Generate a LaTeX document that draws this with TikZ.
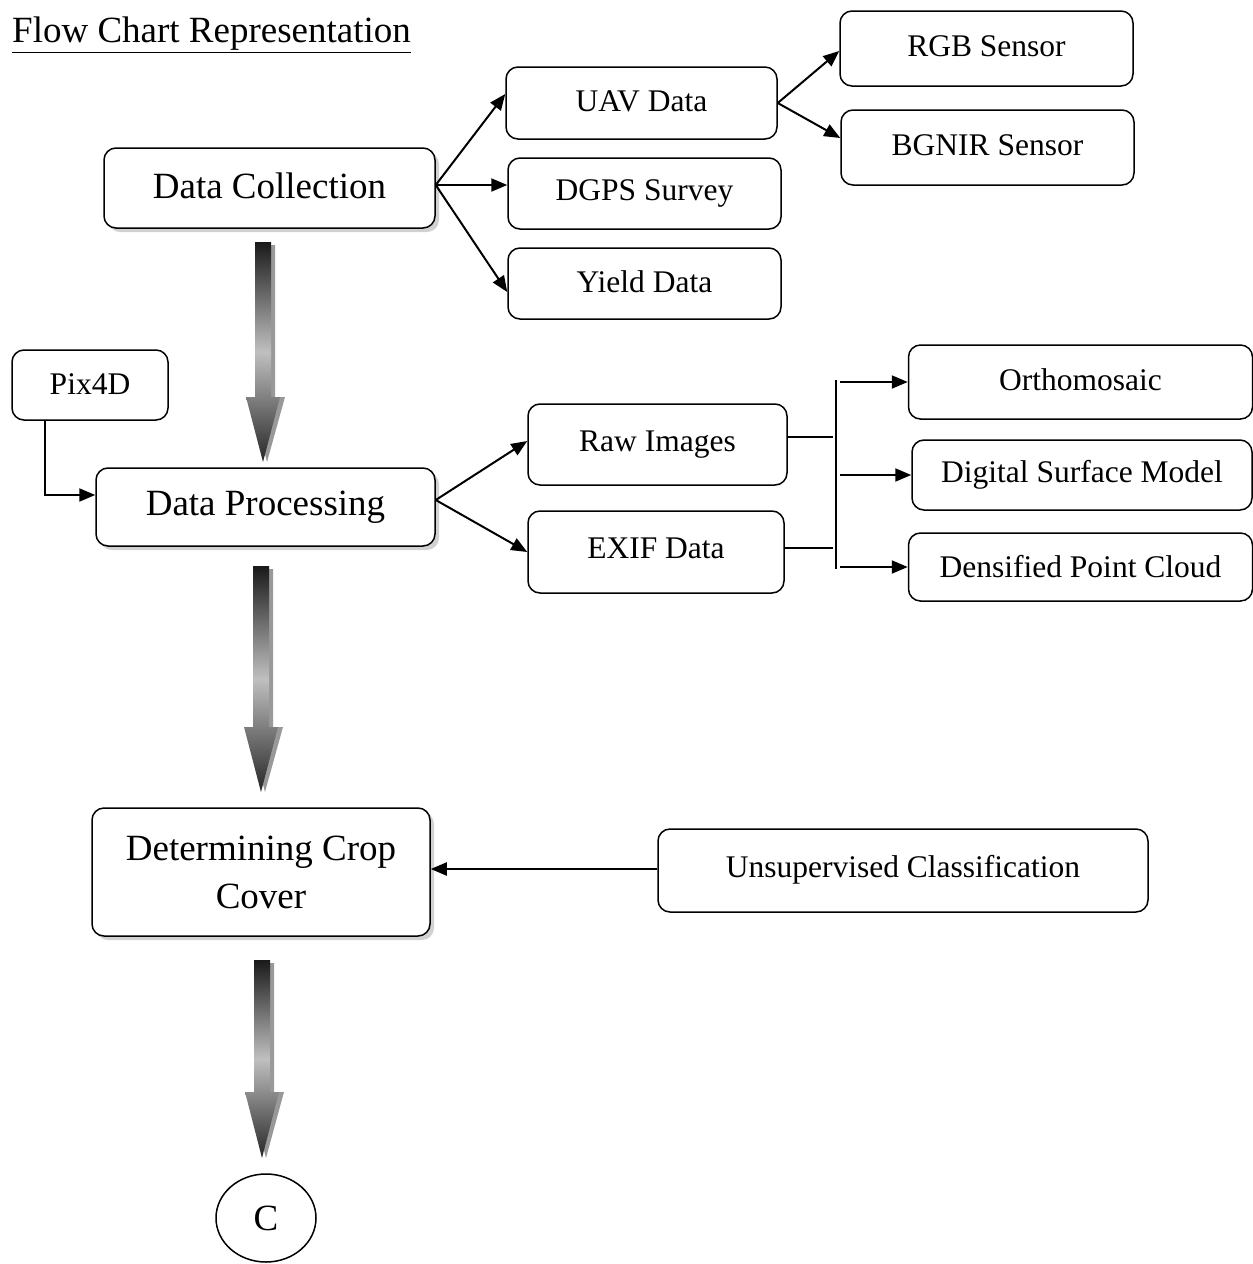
\documentclass[tikz,border=0pt]{standalone}
\usepackage{fontspec}
\setmainfont{Liberation Serif}
\usetikzlibrary{arrows.meta,shapes.geometric,shadows}
\tikzset{
  bx/.style={draw, line width=1.5pt, rounded corners=12pt, inner sep=0pt, align=center, fill=white},
  bigbx/.style={bx, font=\fontsize{37}{48}\selectfont, drop shadow={shadow xshift=4pt, shadow yshift=-4pt, opacity=0.3, fill=black!60}},
  smbx/.style={bx, font=\fontsize{31.5}{36}\selectfont},
  con/.style={line width=2pt, -{Triangle[length=16pt,width=13pt]}},
  ln/.style={line width=2pt},
}
\newcommand\up[2]{\raisebox{#1pt}{#2}}
\newcommand\bigdownarrow[4]{%
  % #1 x centre, #2 top y, #3 head start y, #4 tip y
  \fill[black!40] (#1+4-8,#2+3) -- (#1+4+8,#2+3) -- (#1+4+8,#3) -- (#1+4+18,#3) -- (#1+4,#4) -- (#1+4-17,#3) -- (#1+4-8,#3) -- cycle;
  \shade[top color=black!90, bottom color=black!85, middle color=black!25]
    (#1-8,#2) -- (#1+8,#2) -- (#1+8,#3) -- (#1+17,#3) -- (#1,#4) -- (#1-17,#3) -- (#1-8,#3) -- cycle;
}
\begin{document}
\begin{tikzpicture}[x=1pt,y=-1pt]
\useasboundingbox (0,0) rectangle (1253,1264);

\node[anchor=west, inner sep=0pt, font=\fontsize{37}{44}\selectfont] (title) at (12,35) {\underline{Flow Chart Representation}};

% big boxes
\node[bigbx, minimum width=331pt, minimum height=80pt] (dc) at (269.5,188) {\up{4}{Data Collection}};
\node[bigbx, minimum width=339pt, minimum height=78pt] (dp) at (265.5,507) {\up{3}{Data Processing}};
\node[bigbx, minimum width=338pt, minimum height=128pt] (dcc) at (261,872) {Determining Crop\\Cover};

% small boxes
\node[smbx, minimum width=271pt, minimum height=72pt] (uav) at (641.5,103) {\up{3}{UAV Data}};
\node[smbx, minimum width=273pt, minimum height=71pt] (dgps) at (644.5,193.5) {\up{3}{DGPS Survey}};
\node[smbx, minimum width=273pt, minimum height=71pt] (yield) at (644.5,283.5) {\up{3}{Yield Data}};
\node[smbx, minimum width=293pt, minimum height=75pt] (rgb) at (986.5,48.5) {\up{5}{RGB Sensor}};
\node[smbx, minimum width=293pt, minimum height=75pt] (bgnir) at (987.5,147.5) {\up{5}{BGNIR Sensor}};
\node[smbx, minimum width=156pt, minimum height=70pt] (pix) at (90,385) {\up{2}{Pix4D}};
\node[smbx, minimum width=259pt, minimum height=81pt] (raw) at (657.5,444.5) {\up{7}{Raw Images}};
\node[smbx, minimum width=256pt, minimum height=82pt] (exif) at (656,552) {\up{7}{EXIF Data}};
\node[smbx, minimum width=344pt, minimum height=74pt] (ortho) at (1080.5,382) {\up{4}{Orthomosaic}};
\node[smbx, minimum width=340pt, minimum height=70pt] (dsm) at (1082,475) {\up{2}{Digital Surface Model}};
\node[smbx, minimum width=344pt, minimum height=68pt] (dpc) at (1080.5,567) {\up{2}{Densified Point Cloud}};
\node[smbx, minimum width=490pt, minimum height=83pt] (unsup) at (903,870.5) {\up{8}{Unsupervised Classification}};
\node[draw, line width=1.5pt, ellipse, minimum width=100pt, minimum height=88pt, inner sep=0pt, font=\fontsize{37}{44}\selectfont] (c) at (266,1218) {C};

% big gradient arrows
\bigdownarrow{263}{242}{397}{462}
\bigdownarrow{261}{566}{727}{792}
\bigdownarrow{262}{960}{1092}{1158}

% connectors from Data Collection
\coordinate (dco) at (dc.east |- 0,185);
\draw[con] (dco) -- (uav.west |- 0,94);
\draw[con] (dco) -- (dco -| dgps.west);
\draw[con] (dco) -- (yield.west |- 0,292);

% UAV to sensors
\coordinate (uo) at (uav.east);
\draw[con] (uo) -- (rgb.west |- 0,51);
\draw[con] (uo) -- (bgnir.west |- 0,138);

% Pix4D to Data Processing
\coordinate (p1) at (45,420);
\coordinate (p2) at (45,495);
\draw[con] (p1) -- (p2) -- (p2 -| dp.west);

% Data Processing to Raw/EXIF
\coordinate (dpo) at (dp.east |- 0,500);
\draw[con] (dpo) -- (raw.west |- 0,441);
\draw[con] (dpo) -- (exif.west |- 0,552);

% Raw/EXIF bracket to products
\coordinate (vt) at (836,380);
\coordinate (vb) at (836,569);
\draw[ln] (vt) -- (vb);
\draw[ln] (raw.east |- 0,437) -- (833,437);
\draw[ln] (exif.east |- 0,548) -- (833,548);
\draw[con] (840,382) -- (ortho.west);
\draw[con] (840,475) -- (dsm.west);
\draw[con] (840,567) -- (dpc.west);

% Unsupervised classification to crop cover
\draw[con] (unsup.west |- 0,869) -- (dcc.east |- 0,869);
\end{tikzpicture}
\end{document}
